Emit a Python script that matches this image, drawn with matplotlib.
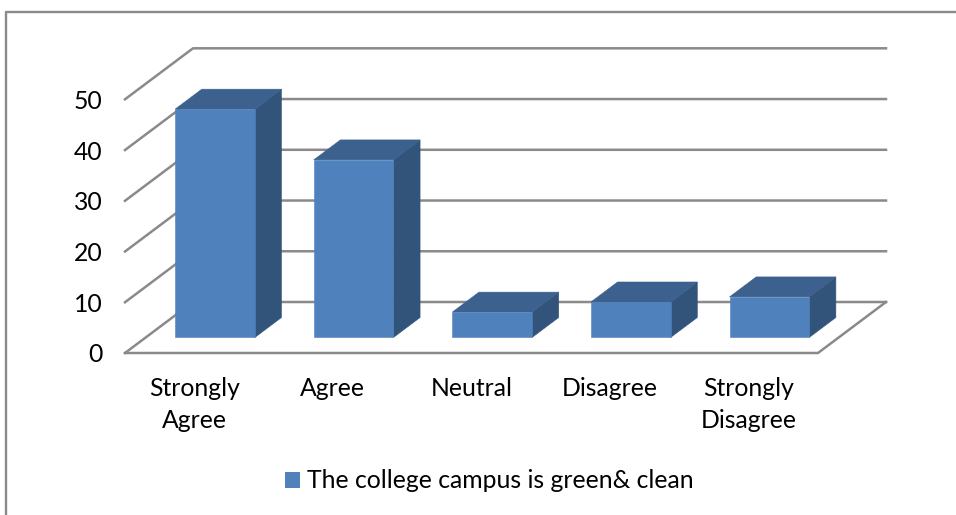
import matplotlib
matplotlib.use('Agg')
from matplotlib import pyplot as plt
from matplotlib.lines import Line2D
from matplotlib.patches import Patch, Polygon

categories = ['Strongly\nAgree', 'Agree', 'Neutral', 'Disagree', 'Strongly\nDisagree']
values = [45, 35, 5, 7, 8]
y_ticks = [0, 10, 20, 30, 40, 50]
series_name = 'The college campus is green& clean'

W, H = 956, 515
FRONT, TOP, SIDE = '#4F81BD', '#3C618F', '#32547B'
GRID = '#8A8A8A'
FONT_SIZE = 17.8
# offset of the back wall from the front, in data units
DEPTH_X = 68 / 138.6
DEPTH_Y = 10.05
BAR_WIDTH = 0.575
BAR_NEAR, BAR_FAR = 0.304, 0.696

plt.rcParams['font.family'] = ['Lato', 'DejaVu Sans']


def project(x, y, d):
    # oblique projection: d=0 is the front of the floor, d=1 the back wall
    return x + d * DEPTH_X, y + d * DEPTH_Y


def face(ax, points, color, z):
    ax.add_patch(Polygon(points, closed=True, facecolor=color, edgecolor=color,
                         linewidth=0.4, clip_on=False, zorder=z))


def draw_bar(ax, left, value, z):
    right = left + BAR_WIDTH
    a = project(left, 0, BAR_NEAR)
    b = project(right, 0, BAR_NEAR)
    c = project(right, value, BAR_NEAR)
    d = project(left, value, BAR_NEAR)
    e = project(right, value, BAR_FAR)
    f = project(left, value, BAR_FAR)
    g = project(right, 0, BAR_FAR)
    face(ax, [b, g, e, c], SIDE, z)
    face(ax, [d, c, e, f], TOP, z)
    face(ax, [a, b, c, d], FRONT, z)


fig = plt.figure(figsize=(W / 100, H / 100), dpi=100)
ax = fig.add_axes([125 / W, (H - 353) / H, 693 / W, 253.7 / H])
ax.set_xlim(0, len(categories))
ax.set_ylim(0, 50)

# walls and floor
for tick in y_ticks:
    x0, y0 = project(0, tick, 0)
    x1, y1 = project(0, tick, 1)
    x2, y2 = project(len(categories), tick, 1)
    ax.plot([x0, x1, x2], [y0, y1, y2], color=GRID, lw=1.8, clip_on=False, zorder=1)
n = len(categories)
ax.plot(*zip(project(0, 0, 0), project(n, 0, 0), project(n, 0, 1)),
        color=GRID, lw=1.8, clip_on=False, zorder=1)

for i, value in enumerate(values):
    draw_bar(ax, i + (1 - BAR_WIDTH) / 2, value, 3 + i)

for side in ax.spines.values():
    side.set_visible(False)
ax.set_yticks(y_ticks)
ax.set_xticks([i + 0.5 for i in range(n)])
ax.set_xticklabels(categories, linespacing=1.47)
ax.tick_params(axis='y', length=0, pad=16, labelsize=FONT_SIZE, labelcolor='black')
ax.tick_params(axis='x', length=0, pad=17, labelsize=FONT_SIZE, labelcolor='black')

fig.legend(handles=[Patch(facecolor=FRONT, edgecolor='none', label=series_name)],
           loc='center', bbox_to_anchor=(489 / W, 1 - 481 / H), frameon=False, fontsize=FONT_SIZE,
           handlelength=0.6, handleheight=0.6, handletextpad=0.28)

# frame of the chart, cropped on two sides in the source image
fig.add_artist(Line2D([6 / W, 6 / W, 1], [0, 1 - 12 / H, 1 - 12 / H], color=GRID, lw=1.7))

fig.savefig('out.png', dpi=100)
